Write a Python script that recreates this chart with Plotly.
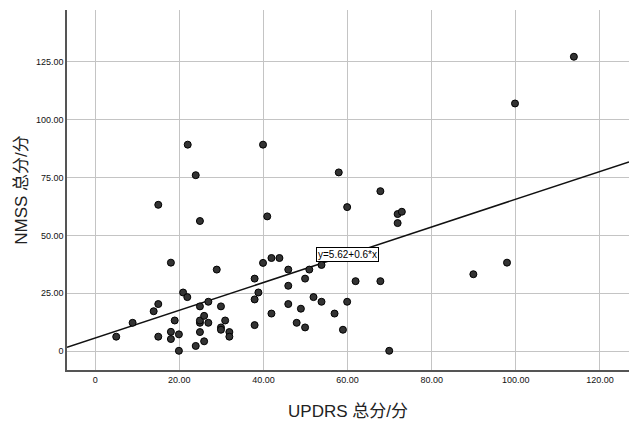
import plotly.graph_objects as go

# Data (UPDRS total vs NMSS total)
updrs = [23.9, 15.0, 24.9, 18.0, 28.9, 37.9, 38.8, 37.9, 37.9, 20.9,
         21.9, 15.0, 13.9, 8.9, 5.0, 15.0, 18.9, 18.0, 18.0, 19.9,
         19.9, 23.9, 25.9, 24.9, 24.9, 24.9, 25.9, 26.9, 24.9, 26.9,
         29.9, 30.9, 29.9, 29.9, 31.9, 31.9,
         57.9, 67.8, 59.9, 71.9, 72.9, 71.9, 40.9, 39.9, 41.9, 43.8,
         45.9, 50.9, 53.8, 49.9, 45.9, 61.9, 67.8, 51.9, 53.8, 59.9,
         45.9, 48.9, 41.9, 56.9, 47.9, 49.9, 58.9, 69.9,
         113.8, 99.8, 97.9, 89.9, 22.0, 39.9]
nmss = [76.0, 63.2, 56.2, 38.2, 35.2, 31.3, 25.3, 22.3, 11.2, 25.3,
        23.3, 20.3, 17.2, 12.2, 6.2, 6.2, 13.2, 8.3, 5.2, 7.2,
        0.1, 2.2, 4.2, 8.2, 12.2, 13.2, 15.2, 12.2, 19.3, 21.3,
        19.3, 13.2, 10.2, 9.2, 8.2, 6.2,
        77.2, 69.1, 62.2, 59.2, 60.2, 55.3, 58.2, 38.1, 40.2, 40.2,
        35.2, 35.2, 37.2, 31.3, 28.2, 30.2, 30.2, 23.3, 21.3, 21.3,
        20.3, 18.3, 16.2, 16.2, 12.2, 10.2, 9.2, 0.1,
        127.2, 107.0, 38.2, 33.2, 89.2, 89.2]

fit_intercept = 5.62
fit_slope = 0.6
fit_label = "y=5.62+0.6*x"

x_ticks = [0, 20, 40, 60, 80, 100, 120]
x_tick_text = ["0", "20.00", "40.00", "60.00", "80.00", "100.00", "120.00"]
y_ticks = [0, 25, 50, 75, 100, 125]
y_tick_text = ["0", "25.00", "50.00", "75.00", "100.00", "125.00"]

x_range = [-6.7, 126.9]
y_range = [-8.2, 147.4]

fit_x = [x_range[0], x_range[1]]
fit_y = [fit_intercept + fit_slope * v for v in fit_x]

fig = go.Figure()
fig.add_trace(go.Scatter(
    x=fit_x, y=fit_y, mode="lines",
    line=dict(color="#111111", width=1.5), hoverinfo="skip", showlegend=False))
fig.add_trace(go.Scatter(
    x=updrs, y=nmss, mode="markers",
    marker=dict(size=7, color="#333333", line=dict(color="#000000", width=1)),
    showlegend=False))

lab_x = 60
fig.add_annotation(
    x=lab_x, y=fit_intercept + fit_slope * lab_x, text=fit_label,
    showarrow=False, bgcolor="white", bordercolor="#000000", borderwidth=1,
    borderpad=1, font=dict(size=10, color="#000000", family="Liberation Sans"))

font_main = "Liberation Sans, Arial, Noto Sans CJK SC, sans-serif"
fig.update_layout(
    width=629, height=425,
    margin=dict(l=67, r=0, t=10, b=55),
    paper_bgcolor="white", plot_bgcolor="white",
    font=dict(family=font_main, color="#111111"),
    xaxis=dict(
        range=x_range, tickmode="array", tickvals=x_ticks, ticktext=x_tick_text,
        showgrid=True, gridcolor="#c4c4c4", gridwidth=1, zeroline=False,
        showline=True, linecolor="#555555", linewidth=1.5, mirror=False,
        ticks="", tickfont=dict(size=9, color="#111111"), automargin=False,
        title=dict(text="UPDRS 总分/分", font=dict(size=17, color="#222222"), standoff=22)),
    yaxis=dict(
        range=y_range, tickmode="array", tickvals=y_ticks, ticktext=y_tick_text,
        showgrid=True, gridcolor="#c4c4c4", gridwidth=1, zeroline=False,
        showline=True, linecolor="#555555", linewidth=1.5, mirror=False,
        ticks="", tickfont=dict(size=9, color="#111111"), automargin=False,
        title=dict(text="NMSS 总分/分", font=dict(size=17, color="#222222"), standoff=4)),
)

fig.write_html(
    "out.html",
    config={"displayModeBar": False},
    post_script="document.body.style.margin='0';document.body.style.overflow='hidden';")
